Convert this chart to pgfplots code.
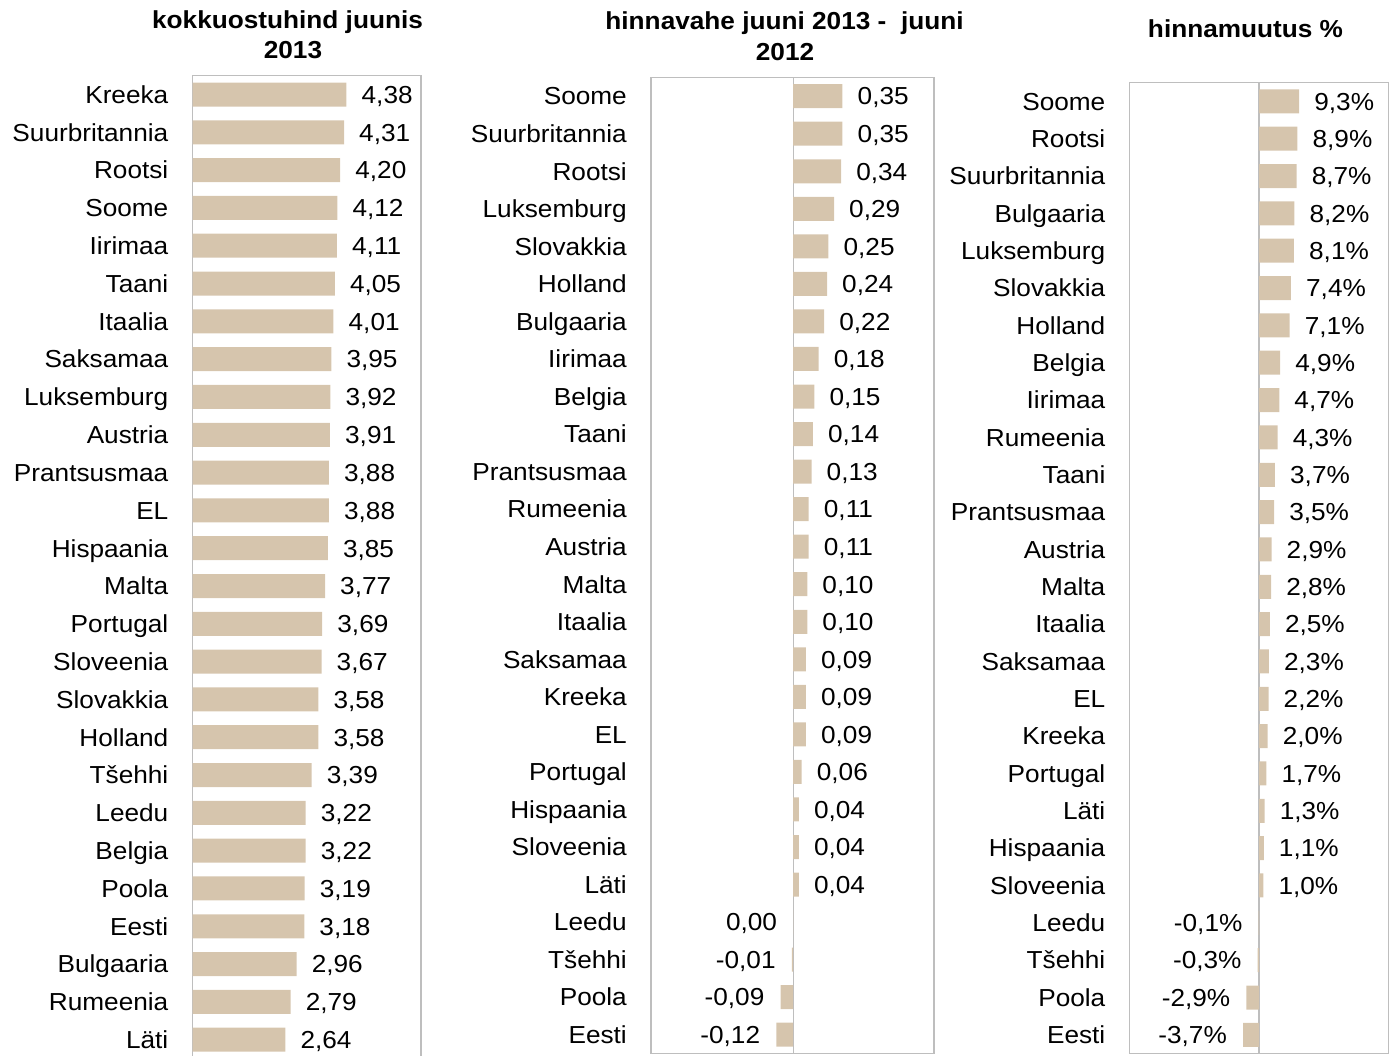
\documentclass[border=0pt]{standalone}
\usepackage{fontspec}
\setmainfont[FakeStretch=1.065]{Liberation Sans}
\usepackage{pgfplots}
\pgfplotsset{compat=1.18}
\definecolor{barc}{RGB}{214,197,173}
\definecolor{framec}{RGB}{190,190,190}
\begin{document}
\begin{tikzpicture}[font=\fontsize{24.6pt}{29.5pt}\selectfont]
\useasboundingbox (0pt,0pt) rectangle (1397pt,1055pt);
\clip (0pt,0pt) rectangle (1397pt,1055pt);
\pgfplotsset{
  panel/.style={
    xbar, scale only axis, anchor=south west,
    y dir=reverse, ymin=-0.5, ymax=25.5,
    ytick={0,...,25}, xtick=\empty,
    axis line style={draw=framec, line width=1.3pt},
    major tick length=0pt,
    yticklabel style={anchor=east, inner sep=0pt, xshift=-24pt, text height=17.6pt, text depth=0pt},
    bar width=24pt,
    point meta=explicit symbolic,
    clip=false,
  },
  zeroline/.style={extra x ticks={0}, extra x tick labels={}, extra x tick style={grid=major, major grid style={draw=framec, line width=1.3pt}}},
  posbar/.style={fill=barc, draw=none, bar shift=0pt, nodes near coords,
    every node near coord/.append style={anchor=west, inner sep=0pt, xshift=15pt, text height=17.6pt, text depth=0pt, text=black}},
  negbar/.style={fill=barc, draw=none, bar shift=0pt, nodes near coords,
    every node near coord/.append style={anchor=east, inner sep=0pt, xshift=-16pt, text height=17.6pt, text depth=0pt, text=black}},
}
% Panel 1
\begin{axis}[panel, at={(192.5pt,-3.6pt)}, width=228.5pt, height=983pt, xmin=0, xmax=6.5,
  yticklabels={Kreeka,Suurbritannia,Rootsi,Soome,Iirimaa,Taani,Itaalia,Saksamaa,Luksemburg,Austria,Prantsusmaa,EL,Hispaania,Malta,Portugal,Sloveenia,Slovakkia,Holland,Tšehhi,Leedu,Belgia,Poola,Eesti,Bulgaaria,Rumeenia,Läti}]
\addplot[posbar] coordinates {
(4.38,0) [4,38] (4.31,1) [4,31] (4.20,2) [4,20] (4.12,3) [4,12] (4.11,4) [4,11]
(4.05,5) [4,05] (4.01,6) [4,01] (3.95,7) [3,95] (3.92,8) [3,92] (3.91,9) [3,91]
(3.88,10) [3,88] (3.88,11) [3,88] (3.85,12) [3,85] (3.77,13) [3,77] (3.69,14) [3,69]
(3.67,15) [3,67] (3.58,16) [3,58] (3.58,17) [3,58] (3.39,18) [3,39] (3.22,19) [3,22]
(3.22,20) [3,22] (3.19,21) [3,19] (3.18,22) [3,18] (2.96,23) [2,96] (2.79,24) [2,79]
(2.64,25) [2,64]};
\end{axis}
% Panel 2
\begin{axis}[panel, zeroline, at={(651pt,1.5pt)}, width=283pt, height=976.1pt, xmin=-1.01, xmax=1.0,
  yticklabels={Soome,Suurbritannia,Rootsi,Luksemburg,Slovakkia,Holland,Bulgaaria,Iirimaa,Belgia,Taani,Prantsusmaa,Rumeenia,Austria,Malta,Itaalia,Saksamaa,Kreeka,EL,Portugal,Hispaania,Sloveenia,Läti,Leedu,Tšehhi,Poola,Eesti}]
\addplot[posbar] coordinates {
(0.35,0) [0,35] (0.35,1) [0,35] (0.34,2) [0,34] (0.29,3) [0,29] (0.25,4) [0,25]
(0.24,5) [0,24] (0.22,6) [0,22] (0.18,7) [0,18] (0.15,8) [0,15] (0.14,9) [0,14]
(0.13,10) [0,13] (0.11,11) [0,11] (0.11,12) [0,11] (0.10,13) [0,10] (0.10,14) [0,10]
(0.09,15) [0,09] (0.09,16) [0,09] (0.09,17) [0,09] (0.06,18) [0,06] (0.04,19) [0,04]
(0.04,20) [0,04] (0.04,21) [0,04]};
\addplot[negbar] coordinates {
(0.00,22) [0,00] (-0.01,23) [-0,01] (-0.09,24) [-0,09] (-0.12,25) [-0,12]};
\end{axis}
% Panel 3
\begin{axis}[panel, zeroline, at={(1129.5pt,1.5pt)}, width=259pt, height=970.8pt, xmin=-30, xmax=30,
  yticklabels={Soome,Rootsi,Suurbritannia,Bulgaaria,Luksemburg,Slovakkia,Holland,Belgia,Iirimaa,Rumeenia,Taani,Prantsusmaa,Austria,Malta,Itaalia,Saksamaa,EL,Kreeka,Portugal,Läti,Hispaania,Sloveenia,Leedu,Tšehhi,Poola,Eesti}]
\addplot[posbar] coordinates {
(9.3,0) [9,3\%] (8.9,1) [8,9\%] (8.7,2) [8,7\%] (8.2,3) [8,2\%] (8.1,4) [8,1\%]
(7.4,5) [7,4\%] (7.1,6) [7,1\%] (4.9,7) [4,9\%] (4.7,8) [4,7\%] (4.3,9) [4,3\%]
(3.7,10) [3,7\%] (3.5,11) [3,5\%] (2.9,12) [2,9\%] (2.8,13) [2,8\%] (2.5,14) [2,5\%]
(2.3,15) [2,3\%] (2.2,16) [2,2\%] (2.0,17) [2,0\%] (1.7,18) [1,7\%] (1.3,19) [1,3\%]
(1.1,20) [1,1\%] (1.0,21) [1,0\%]};
\addplot[negbar] coordinates {
(-0.1,22) [-0,1\%] (-0.3,23) [-0,3\%] (-2.9,24) [-2,9\%] (-3.7,25) [-3,7\%]};
\end{axis}
% Titles
\node[anchor=base, font=\fontsize{24.6pt}{29.5pt}\selectfont\bfseries] at (287.5pt,1026.5pt) {kokkuostuhind juunis};
\node[anchor=base, font=\fontsize{24.6pt}{29.5pt}\selectfont\bfseries] at (293pt,996.7pt) {2013};
\node[anchor=base, font=\fontsize{24.6pt}{29.5pt}\selectfont\bfseries] at (784.5pt,1025.5pt) {hinnavahe juuni 2013 -\ \ juuni};
\node[anchor=base, font=\fontsize{24.6pt}{29.5pt}\selectfont\bfseries] at (785pt,994.3pt) {2012};
\node[anchor=base, font=\fontsize{24.6pt}{29.5pt}\selectfont\bfseries] at (1245.5pt,1017.7pt) {hinnamuutus \%};
\end{tikzpicture}
\end{document}
